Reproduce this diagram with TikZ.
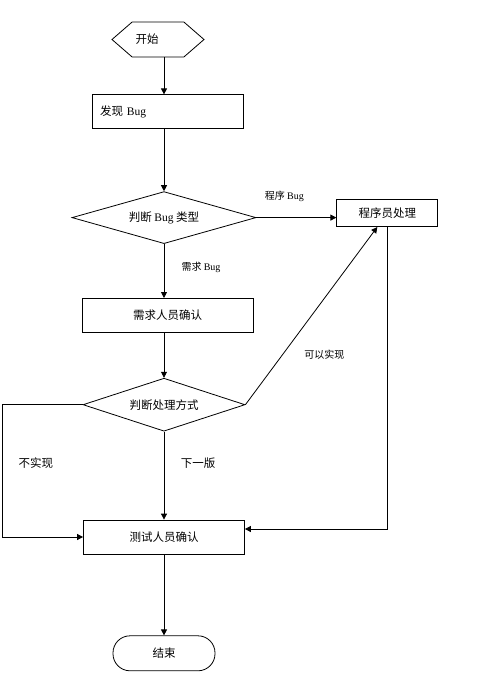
\documentclass[tikz,border=0pt]{standalone}
\usepackage{fontspec}
\setmainfont{Liberation Serif}
\newfontfamily\cjk{Noto Sans CJK SC}
\usepackage{tikz}
\usetikzlibrary{positioning,arrows.meta,shapes.geometric,shapes.symbols}
\newcommand\bug{{\rmfamily Bug}}
\tikzset{
  hexbox/.style={draw, line width=0.8pt, signal, signal to=west and east,
                 signal pointer angle=82, minimum width=92pt, minimum height=35pt, inner sep=0pt},
  procbox/.style={draw, line width=0.8pt, minimum height=34pt, align=center},
  decision/.style={draw, line width=0.8pt, diamond, aspect=3.5, inner sep=0pt},
  endbox/.style={draw, line width=0.8pt, rounded corners=17pt, minimum width=102pt, minimum height=35pt},
  arrow/.style={-{Triangle[length=6pt,width=6pt]}, line width=0.8pt},
  smalllbl/.style={font=\cjk\fontsize{10pt}{12pt}\selectfont, inner sep=0pt},
  sidelbl/.style={inner sep=0pt},
}

\begin{document}
\begin{tikzpicture}[font=\cjk\fontsize{11.5pt}{14pt}\selectfont]
  \useasboundingbox (0,0) rectangle (490pt,-697pt);
  \node[hexbox, label={[xshift=-11pt]center:开始}] (start) at (158pt,-39.5pt) {};
  \node[procbox, below=37pt of start, xshift=9.5pt, minimum width=151pt, text width=135pt,
        align=left, inner xsep=8pt] (find) {发现 \bug};
  \node[decision, below=62pt of find, xshift=-3.5pt, minimum width=184pt, minimum height=52pt] (judgetype) {判断 \bug{} 类型};
  \node[procbox, below=54pt of judgetype, xshift=3.5pt, minimum width=171pt] (confirmreq) {需求人员确认};
  \node[decision, below=45pt of confirmreq, xshift=-3.5pt, minimum width=162pt, minimum height=53pt] (judgeway) {判断处理方式};
  \node[procbox, below=88pt of judgeway, minimum width=161pt] (confirmtest) {测试人员确认};
  \node[endbox, below=81pt of confirmtest] (finish) {结束};
  \node[procbox, right=80pt of judgetype, yshift=4.5pt, minimum width=101pt, minimum height=27pt] (dev) {程序员处理};
  \coordinate (edge) at (2pt,0);

  \draw[arrow] (start.south -| judgetype) -- (find.north -| judgetype);
  \draw[arrow] (find.south -| judgetype) -- (judgetype.north);
  \draw[arrow] (judgetype.east) -- node[smalllbl, pos=0.35, yshift=21pt]{程序 \bug} (judgetype.east -| dev.west);
  \draw[arrow] (judgetype.south) -- node[smalllbl, pos=0.44, xshift=37pt]{需求 \bug} (confirmreq.north -| judgetype);
  \draw[arrow] (confirmreq.south -| judgetype) -- (judgeway.north);
  \draw[arrow] (judgeway.east) -- node[smalllbl, pos=0.28, xshift=42pt]{可以实现} ([xshift=-10pt]dev.south);
  \draw[arrow] (judgeway.south) -- node[sidelbl, pos=0.36, xshift=34pt]{下一版} (confirmtest.north);
  \draw[arrow] (judgeway.west) -- (judgeway.west -| edge)
    -- node[sidelbl, pos=0.44, xshift=34pt]{不实现} (edge |- confirmtest.west) -- (confirmtest.west);
  \draw[arrow] (dev.south) |- ([yshift=8pt]confirmtest.east);
  \draw[arrow] (confirmtest) -- (finish);
\end{tikzpicture}
\end{document}
